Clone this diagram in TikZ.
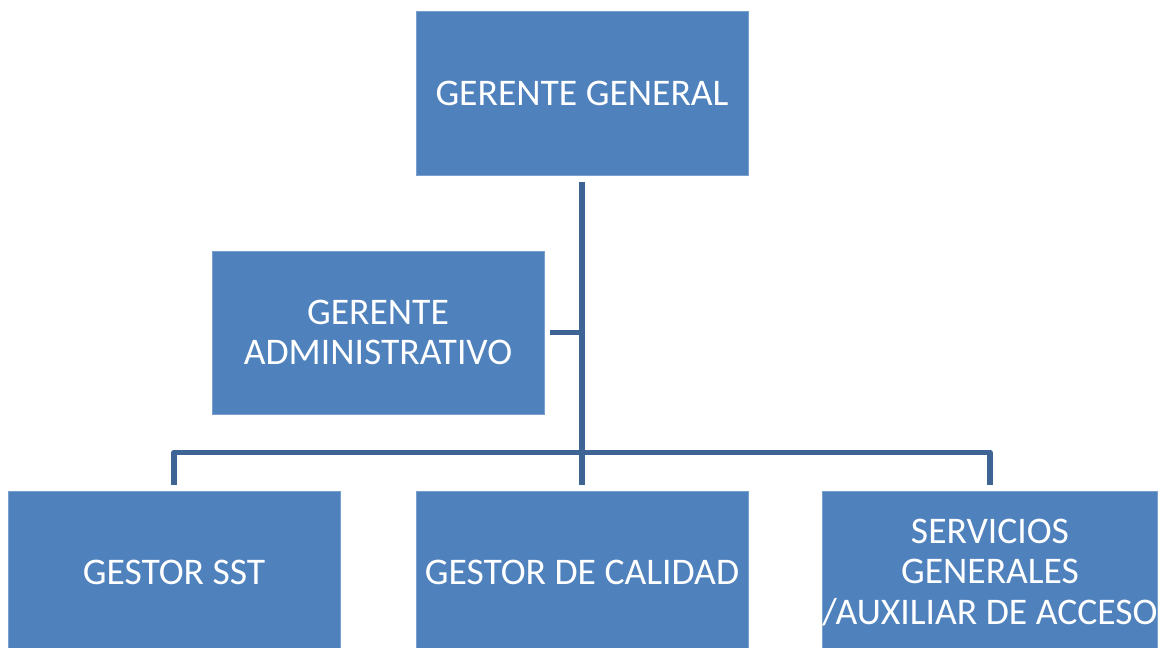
\documentclass[tikz,border=0pt]{standalone}
\usepackage{fontspec}
\setmainfont{Carlito}
\usetikzlibrary{calc}
\definecolor{boxblue}{RGB}{79,129,189}
\definecolor{boxedge}{RGB}{122,160,207}
\definecolor{lineblue}{RGB}{62,100,150}

\begin{document}
\begin{tikzpicture}[x=0.5pt,y=-0.5pt,
		cargo/.style={rectangle, fill=boxblue, draw=boxedge, line width=0.5pt, minimum width=166pt, minimum height=81.5pt, inner sep=0pt, text=white, align=center, font=\fontsize{18.8}{20.25}\selectfont},
		enlace/.style={draw=lineblue, line width=2.8pt, line join=round}]
		%%%%% START %%%%%
		
		\useasboundingbox (0,0) rectangle (1159,647);
		\clip (0,0) rectangle (1159,647);
		
		\node[cargo] (gg) at (582,93.5) {GERENTE GENERAL};
		\node[cargo] (ga) at (378,332.5) {GERENTE\\ADMINISTRATIVO};
		
		\node[cargo] (sst) at (174,572.5) {GESTOR SST};
		\node[cargo] (gc) at (582,572.5) {GESTOR DE CALIDAD};
		\node[cargo] (sg) at (990,572.5) {SERVICIOS\\GENERALES\\/AUXILIAR DE ACCESO};
		
		\coordinate (bus) at (582,452.5);
		
		\draw[enlace] ($(gg.south)+(0,6)$) -- ($(gc.north)+(0,-6)$);
		\draw[enlace] ($(ga.east)+(5,0)$) -- (ga.east -| bus);
		\draw[enlace] ($(sst.north)+(0,-6)$) |- (bus) -| ($(sg.north)+(0,-6)$);
		
		%%%%% END %%%%%
	\end{tikzpicture}
\end{document}
